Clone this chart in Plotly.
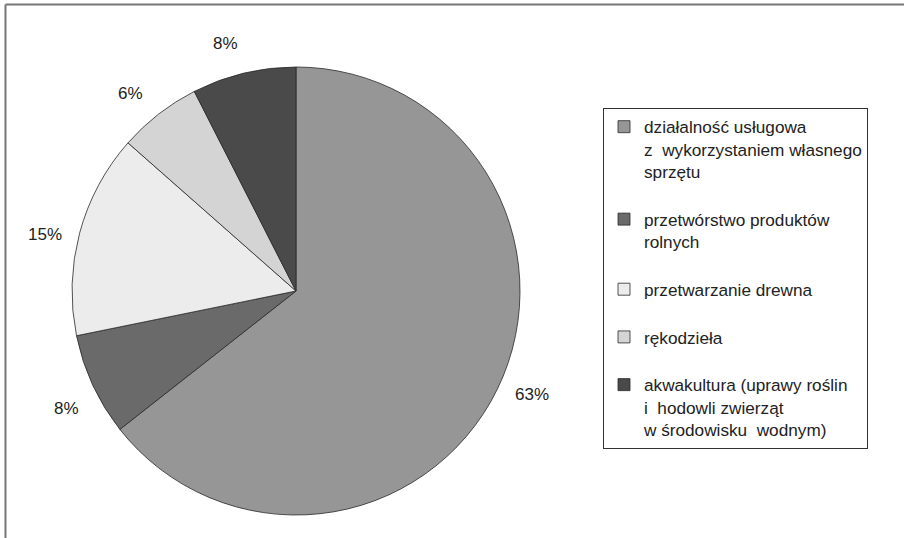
import math
import plotly.graph_objects as go

# %%
# Data
categories = [
    "działalność usługowa<br>z  wykorzystaniem własnego<br>sprzętu<br> ",
    "przetwórstwo produktów<br>rolnych<br> ",
    "przetwarzanie drewna<br> ",
    "rękodzieła<br> ",
    "akwakultura (uprawy roślin<br>i  hodowli zwierząt<br>w środowisku  wodnym)",
]
shares = [64.4, 7.4, 14.7, 6.0, 7.5]
pct_labels = ["63%", "8%", "15%", "6%", "8%"]
colors = ["#969696", "#6a6a6a", "#ececec", "#d4d4d4", "#4a4a4a"]

W, H = 904, 538
FONT = "Liberation Sans, Arial, sans-serif"

# pie placement in pixels
cx, cy, r = 296, 291, 224
dom_x = [(cx - r) / W, (cx + r) / W]
dom_y = [1 - (cy + r) / H, 1 - (cy - r) / H]

fig = go.Figure()
fig.add_trace(go.Pie(
    labels=categories,
    values=shares,
    sort=False,
    direction="clockwise",
    rotation=0,
    textinfo="none",
    hoverinfo="label+percent",
    marker=dict(colors=colors, line=dict(color="#2a2a2a", width=0.8)),
    domain=dict(x=dom_x, y=dom_y),
))

# percent labels outside the slices, placed at the mid angle of each slice
total = sum(shares)
cum = 0
annotations = []
for val, txt in zip(shares, pct_labels):
    mid = (cum + val / 2) / total * 2 * math.pi
    cum += val
    lx = cx + 1.15 * r * math.sin(mid - 0.04)
    ly = cy - 1.15 * r * math.cos(mid - 0.04)
    annotations.append(dict(
        x=lx / W, y=1 - ly / H, xref="paper", yref="paper",
        text=txt, showarrow=False, font=dict(family=FONT, size=17, color="#222"),
        xanchor="center", yanchor="middle",
    ))

fig.update_layout(
    width=W, height=H,
    margin=dict(l=0, r=0, t=0, b=0),
    paper_bgcolor="white",
    plot_bgcolor="white",
    font=dict(family=FONT, size=17, color="#222"),
    annotations=annotations,
    showlegend=True,
    legend=dict(
        x=603 / W, y=1 - 108 / H, xanchor="left", yanchor="top",
        bordercolor="#333", borderwidth=1, bgcolor="white",
        valign="top", font=dict(family=FONT, size=17.2, color="#222"),
        itemwidth=30, tracegroupgap=0,
    ),
    shapes=[
        dict(type="line", xref="paper", yref="paper", x0=5.5 / W, x1=1, y0=1 - 4.5 / H, y1=1 - 4.5 / H,
             line=dict(color="#777", width=2)),
        dict(type="line", xref="paper", yref="paper", x0=5.5 / W, x1=5.5 / W, y0=0, y1=1 - 4.5 / H,
             line=dict(color="#777", width=2)),
    ],
)

# drop the default page margin so the figure sits at the window corner
fig.write_html("out.html", config={"displayModeBar": False},
               post_script="document.body.style.margin='0';")
